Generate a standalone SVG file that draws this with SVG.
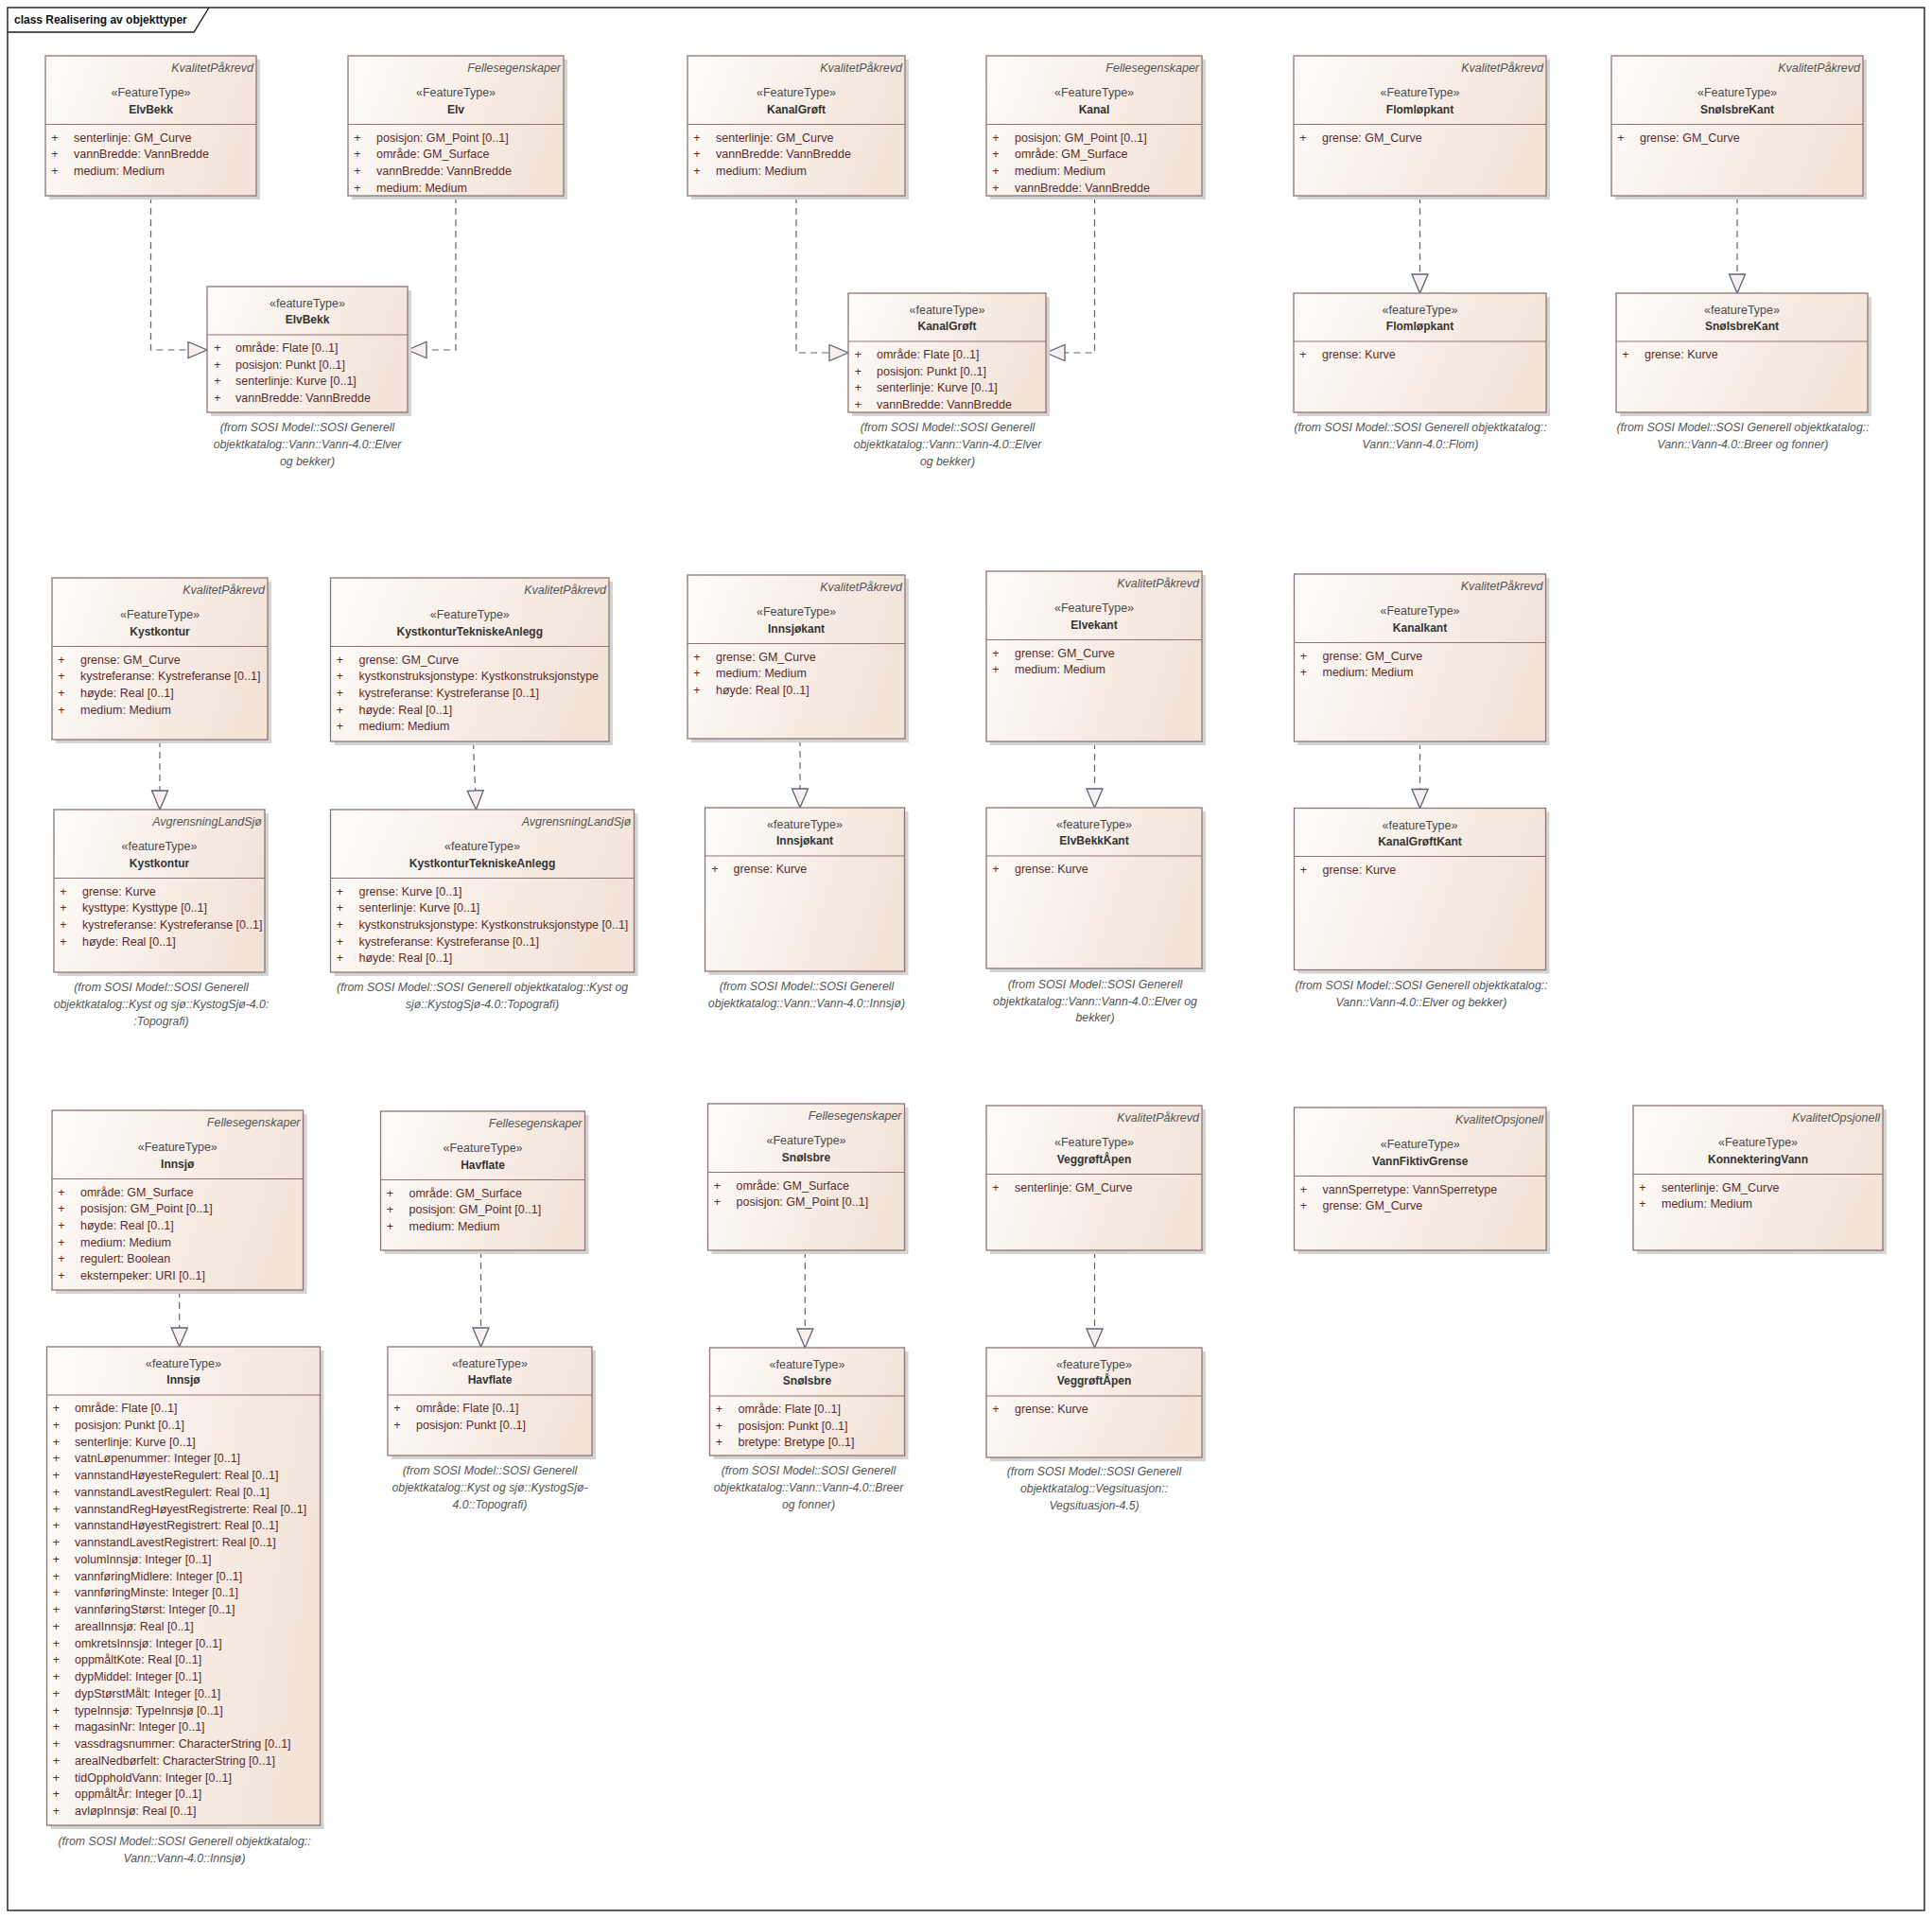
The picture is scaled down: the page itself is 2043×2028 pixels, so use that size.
<svg xmlns="http://www.w3.org/2000/svg" width="2043" height="2028" viewBox="0 0 2043 2028">
<defs>
<linearGradient id="g" x1="0" y1="0" x2="1" y2="0.25">
<stop offset="0" stop-color="#fefcfa"/>
<stop offset="1" stop-color="#f2e4d9"/>
</linearGradient>
<marker id="gen" markerUnits="userSpaceOnUse" markerWidth="24" markerHeight="20" viewBox="0 0 24 20" refX="21.5" refY="9.5" orient="auto">
<path d="M1.5,1 L21.5,9.5 L1.5,18 Z" fill="#f7f0ee" stroke="#5d6577" stroke-width="1.3"/>
</marker>
<style>
text{font-family:"Liberation Sans",Arial,sans-serif}
.sh{fill:#d4d4d4}
.bx{fill:url(#g);stroke:#8e7575;stroke-width:1.3}
.sp{stroke:#8e7575;stroke-width:1.2}
.lb{font-size:12.5px;font-style:italic;fill:#555;text-anchor:end}
.st{font-size:12.5px;fill:#4a4a4a;text-anchor:middle}
.nm{font-size:12px;font-weight:bold;fill:#333;text-anchor:middle}
.at{font-size:12.5px;fill:#5c2b2b}
.pl{font-size:12.5px;fill:#5c2b2b;text-anchor:middle}
.nt{font-size:12.3px;font-style:italic;fill:#555;text-anchor:middle}
.cn{fill:none;stroke:#5d6577;stroke-width:1.2;stroke-dasharray:7 5;marker-end:url(#gen)}
.fr{fill:none;stroke:#1e1e1e;stroke-width:1.4}
</style>
</defs>
<rect width="2043" height="2028" fill="#fff"/>
<g id="frame">
<rect class="fr" x="8" y="8" width="2027" height="2012"/>
<path class="fr" d="M8,34 H205 L221,8"/>
<text x="15" y="25" font-size="12" font-weight="bold" fill="#111">class Realisering av objekttyper</text>
</g>

<g id="connectors">
<path class="cn" d="M159.5,208 V370 H219"/>
<path class="cn" d="M482,208 V370 H431"/>
<path class="cn" d="M842,208 V373 H897"/>
<path class="cn" d="M1157.5,208 V373 H1106"/>
<path class="cn" d="M1501.5,208 V310"/>
<path class="cn" d="M1837,208 V310"/>
<path class="cn" d="M169,783 V856"/>
<path class="cn" d="M500.5,785 L503.5,856"/>
<path class="cn" d="M846,782 V854"/>
<path class="cn" d="M1157.5,785 V854"/>
<path class="cn" d="M1501.5,785 V854.5"/>
<path class="cn" d="M189.7,1365 V1424"/>
<path class="cn" d="M508.5,1323 V1424"/>
<path class="cn" d="M851.3,1323 V1425"/>
<path class="cn" d="M1157.5,1323 V1425"/>
</g>

<g id="ElvBekk-src">
<rect class="sh" x="52" y="63" width="223" height="148"/>
<rect class="bx" x="48" y="59" width="223" height="148"/>
<line class="sp" x1="48" y1="131.5" x2="271" y2="131.5"/>
<text class="lb" x="268" y="76">KvalitetPåkrevd</text>
<text class="st" x="159.5" y="101.5">«FeatureType»</text>
<text class="nm" x="159.5" y="120">ElvBekk</text>
<text class="pl"><tspan x="58" y="149.5">+</tspan><tspan x="58" y="167.2">+</tspan><tspan x="58" y="184.9">+</tspan></text>
<text class="at"><tspan x="78" y="149.5">senterlinje: GM_Curve</tspan><tspan x="78" y="167.2">vannBredde: VannBredde</tspan><tspan x="78" y="184.9">medium: Medium</tspan></text>
</g>

<g id="Elv">
<rect class="sh" x="372" y="63" width="228" height="148"/>
<rect class="bx" x="368" y="59" width="228" height="148"/>
<line class="sp" x1="368" y1="131.5" x2="596" y2="131.5"/>
<text class="lb" x="593" y="76">Fellesegenskaper</text>
<text class="st" x="482" y="101.5">«FeatureType»</text>
<text class="nm" x="482" y="120">Elv</text>
<text class="pl"><tspan x="378" y="149.5">+</tspan><tspan x="378" y="167.2">+</tspan><tspan x="378" y="184.9">+</tspan><tspan x="378" y="202.6">+</tspan></text>
<text class="at"><tspan x="398" y="149.5">posisjon: GM_Point [0..1]</tspan><tspan x="398" y="167.2">område: GM_Surface</tspan><tspan x="398" y="184.9">vannBredde: VannBredde</tspan><tspan x="398" y="202.6">medium: Medium</tspan></text>
</g>

<g id="ElvBekk-tgt">
<rect class="sh" x="223" y="307" width="212" height="133"/>
<rect class="bx" x="219" y="303" width="212" height="133"/>
<line class="sp" x1="219" y1="354" x2="431" y2="354"/>
<text class="st" x="325" y="325">«featureType»</text>
<text class="nm" x="325" y="342">ElvBekk</text>
<text class="pl"><tspan x="230" y="372">+</tspan><tspan x="230" y="389.7">+</tspan><tspan x="230" y="407.4">+</tspan><tspan x="230" y="425.1">+</tspan></text>
<text class="at"><tspan x="249" y="372">område: Flate [0..1]</tspan><tspan x="249" y="389.7">posisjon: Punkt [0..1]</tspan><tspan x="249" y="407.4">senterlinje: Kurve [0..1]</tspan><tspan x="249" y="425.1">vannBredde: VannBredde</tspan></text>
<text class="nt"><tspan x="325" y="456">(from SOSI Model::SOSI Generell</tspan><tspan x="325" y="474">objektkatalog::Vann::Vann-4.0::Elver</tspan><tspan x="325" y="492">og bekker)</tspan></text>
</g>

<g id="KanalGroft-src">
<rect class="sh" x="731" y="63" width="230" height="148"/>
<rect class="bx" x="727" y="59" width="230" height="148"/>
<line class="sp" x1="727" y1="131.5" x2="957" y2="131.5"/>
<text class="lb" x="954" y="76">KvalitetPåkrevd</text>
<text class="st" x="842" y="101.5">«FeatureType»</text>
<text class="nm" x="842" y="120">KanalGrøft</text>
<text class="pl"><tspan x="737" y="149.5">+</tspan><tspan x="737" y="167.2">+</tspan><tspan x="737" y="184.9">+</tspan></text>
<text class="at"><tspan x="757" y="149.5">senterlinje: GM_Curve</tspan><tspan x="757" y="167.2">vannBredde: VannBredde</tspan><tspan x="757" y="184.9">medium: Medium</tspan></text>
</g>

<g id="Kanal">
<rect class="sh" x="1047" y="63" width="228" height="148"/>
<rect class="bx" x="1043" y="59" width="228" height="148"/>
<line class="sp" x1="1043" y1="131.5" x2="1271" y2="131.5"/>
<text class="lb" x="1268" y="76">Fellesegenskaper</text>
<text class="st" x="1157" y="101.5">«FeatureType»</text>
<text class="nm" x="1157" y="120">Kanal</text>
<text class="pl"><tspan x="1053" y="149.5">+</tspan><tspan x="1053" y="167.2">+</tspan><tspan x="1053" y="184.9">+</tspan><tspan x="1053" y="202.6">+</tspan></text>
<text class="at"><tspan x="1073" y="149.5">posisjon: GM_Point [0..1]</tspan><tspan x="1073" y="167.2">område: GM_Surface</tspan><tspan x="1073" y="184.9">medium: Medium</tspan><tspan x="1073" y="202.6">vannBredde: VannBredde</tspan></text>
</g>

<g id="KanalGroft-tgt">
<rect class="sh" x="901" y="314" width="209" height="126"/>
<rect class="bx" x="897" y="310" width="209" height="126"/>
<line class="sp" x1="897" y1="361" x2="1106" y2="361"/>
<text class="st" x="1001.5" y="332">«featureType»</text>
<text class="nm" x="1001.5" y="349">KanalGrøft</text>
<text class="pl"><tspan x="907.5" y="379">+</tspan><tspan x="907.5" y="396.7">+</tspan><tspan x="907.5" y="414.4">+</tspan><tspan x="907.5" y="432.1">+</tspan></text>
<text class="at"><tspan x="927" y="379">område: Flate [0..1]</tspan><tspan x="927" y="396.7">posisjon: Punkt [0..1]</tspan><tspan x="927" y="414.4">senterlinje: Kurve [0..1]</tspan><tspan x="927" y="432.1">vannBredde: VannBredde</tspan></text>
<text class="nt"><tspan x="1002" y="456">(from SOSI Model::SOSI Generell</tspan><tspan x="1002" y="474">objektkatalog::Vann::Vann-4.0::Elver</tspan><tspan x="1002" y="492">og bekker)</tspan></text>
</g>

<g id="Flomlopkant-src">
<rect class="sh" x="1372" y="63" width="267" height="148"/>
<rect class="bx" x="1368" y="59" width="267" height="148"/>
<line class="sp" x1="1368" y1="131.5" x2="1635" y2="131.5"/>
<text class="lb" x="1632" y="76">KvalitetPåkrevd</text>
<text class="st" x="1501.5" y="101.5">«FeatureType»</text>
<text class="nm" x="1501.5" y="120">Flomløpkant</text>
<text class="pl"><tspan x="1378" y="149.5">+</tspan></text>
<text class="at"><tspan x="1398" y="149.5">grense: GM_Curve</tspan></text>
</g>

<g id="Flomlopkant-tgt">
<rect class="sh" x="1372" y="314" width="267" height="126"/>
<rect class="bx" x="1368" y="310" width="267" height="126"/>
<line class="sp" x1="1368" y1="361" x2="1635" y2="361"/>
<text class="st" x="1501.5" y="332">«featureType»</text>
<text class="nm" x="1501.5" y="349">Flomløpkant</text>
<text class="pl"><tspan x="1378" y="379">+</tspan></text>
<text class="at"><tspan x="1398" y="379">grense: Kurve</tspan></text>
<text class="nt"><tspan x="1502" y="456">(from SOSI Model::SOSI Generell objektkatalog::</tspan><tspan x="1502" y="474">Vann::Vann-4.0::Flom)</tspan></text>
</g>

<g id="SnoIsbreKant-src">
<rect class="sh" x="1708" y="63" width="266" height="148"/>
<rect class="bx" x="1704" y="59" width="266" height="148"/>
<line class="sp" x1="1704" y1="131.5" x2="1970" y2="131.5"/>
<text class="lb" x="1967" y="76">KvalitetPåkrevd</text>
<text class="st" x="1837" y="101.5">«FeatureType»</text>
<text class="nm" x="1837" y="120">SnøIsbreKant</text>
<text class="pl"><tspan x="1714" y="149.5">+</tspan></text>
<text class="at"><tspan x="1734" y="149.5">grense: GM_Curve</tspan></text>
</g>

<g id="SnoIsbreKant-tgt">
<rect class="sh" x="1713" y="314" width="266" height="126"/>
<rect class="bx" x="1709" y="310" width="266" height="126"/>
<line class="sp" x1="1709" y1="361" x2="1975" y2="361"/>
<text class="st" x="1842" y="332">«featureType»</text>
<text class="nm" x="1842" y="349">SnøIsbreKant</text>
<text class="pl"><tspan x="1719" y="379">+</tspan></text>
<text class="at"><tspan x="1739" y="379">grense: Kurve</tspan></text>
<text class="nt"><tspan x="1843" y="456">(from SOSI Model::SOSI Generell objektkatalog::</tspan><tspan x="1843" y="474">Vann::Vann-4.0::Breer og fonner)</tspan></text>
</g>

<g id="Kystkontur-src">
<rect class="sh" x="59" y="615" width="228" height="171"/>
<rect class="bx" x="55" y="611" width="228" height="171"/>
<line class="sp" x1="55" y1="683.5" x2="283" y2="683.5"/>
<text class="lb" x="280" y="628">KvalitetPåkrevd</text>
<text class="st" x="169" y="653.5">«FeatureType»</text>
<text class="nm" x="169" y="672">Kystkontur</text>
<text class="pl"><tspan x="65" y="701.5">+</tspan><tspan x="65" y="719.2">+</tspan><tspan x="65" y="736.9">+</tspan><tspan x="65" y="754.6">+</tspan></text>
<text class="at"><tspan x="85" y="701.5">grense: GM_Curve</tspan><tspan x="85" y="719.2">kystreferanse: Kystreferanse [0..1]</tspan><tspan x="85" y="736.9">høyde: Real [0..1]</tspan><tspan x="85" y="754.6">medium: Medium</tspan></text>
</g>

<g id="KystkonturTekniskeAnlegg-src">
<rect class="sh" x="353.5" y="615" width="294.5" height="173"/>
<rect class="bx" x="349.5" y="611" width="294.5" height="173"/>
<line class="sp" x1="349.5" y1="683.5" x2="644" y2="683.5"/>
<text class="lb" x="641" y="628">KvalitetPåkrevd</text>
<text class="st" x="496.75" y="653.5">«FeatureType»</text>
<text class="nm" x="496.75" y="672">KystkonturTekniskeAnlegg</text>
<text class="pl"><tspan x="359.5" y="701.5">+</tspan><tspan x="359.5" y="719.2">+</tspan><tspan x="359.5" y="736.9">+</tspan><tspan x="359.5" y="754.6">+</tspan><tspan x="359.5" y="772.3">+</tspan></text>
<text class="at"><tspan x="379.5" y="701.5">grense: GM_Curve</tspan><tspan x="379.5" y="719.2">kystkonstruksjonstype: Kystkonstruksjonstype</tspan><tspan x="379.5" y="736.9">kystreferanse: Kystreferanse [0..1]</tspan><tspan x="379.5" y="754.6">høyde: Real [0..1]</tspan><tspan x="379.5" y="772.3">medium: Medium</tspan></text>
</g>

<g id="Kystkontur-tgt">
<rect class="sh" x="61" y="860" width="223" height="172"/>
<rect class="bx" x="57" y="856" width="223" height="172"/>
<line class="sp" x1="57" y1="928.5" x2="280" y2="928.5"/>
<text class="lb" x="277" y="873">AvgrensningLandSjø</text>
<text class="st" x="168.5" y="898.5">«featureType»</text>
<text class="nm" x="168.5" y="917">Kystkontur</text>
<text class="pl"><tspan x="67" y="946.5">+</tspan><tspan x="67" y="964.2">+</tspan><tspan x="67" y="981.9">+</tspan><tspan x="67" y="999.6">+</tspan></text>
<text class="at"><tspan x="87" y="946.5">grense: Kurve</tspan><tspan x="87" y="964.2">kysttype: Kysttype [0..1]</tspan><tspan x="87" y="981.9">kystreferanse: Kystreferanse [0..1]</tspan><tspan x="87" y="999.6">høyde: Real [0..1]</tspan></text>
<text class="nt"><tspan x="170.5" y="1048">(from SOSI Model::SOSI Generell</tspan><tspan x="170.5" y="1066">objektkatalog::Kyst og sjø::KystogSjø-4.0:</tspan><tspan x="170.5" y="1084">:Topografi)</tspan></text>
</g>

<g id="KystkonturTekniskeAnlegg-tgt">
<rect class="sh" x="353.5" y="860" width="321" height="172"/>
<rect class="bx" x="349.5" y="856" width="321" height="172"/>
<line class="sp" x1="349.5" y1="928.5" x2="670.5" y2="928.5"/>
<text class="lb" x="667.5" y="873">AvgrensningLandSjø</text>
<text class="st" x="510" y="898.5">«featureType»</text>
<text class="nm" x="510" y="917">KystkonturTekniskeAnlegg</text>
<text class="pl"><tspan x="359.5" y="946.5">+</tspan><tspan x="359.5" y="964.2">+</tspan><tspan x="359.5" y="981.9">+</tspan><tspan x="359.5" y="999.6">+</tspan><tspan x="359.5" y="1017.3">+</tspan></text>
<text class="at"><tspan x="379.5" y="946.5">grense: Kurve [0..1]</tspan><tspan x="379.5" y="964.2">senterlinje: Kurve [0..1]</tspan><tspan x="379.5" y="981.9">kystkonstruksjonstype: Kystkonstruksjonstype [0..1]</tspan><tspan x="379.5" y="999.6">kystreferanse: Kystreferanse [0..1]</tspan><tspan x="379.5" y="1017.3">høyde: Real [0..1]</tspan></text>
<text class="nt"><tspan x="510" y="1048">(from SOSI Model::SOSI Generell objektkatalog::Kyst og</tspan><tspan x="510" y="1066">sjø::KystogSjø-4.0::Topografi)</tspan></text>
</g>

<g id="Innsjokant-src">
<rect class="sh" x="731" y="612" width="230" height="173"/>
<rect class="bx" x="727" y="608" width="230" height="173"/>
<line class="sp" x1="727" y1="680.5" x2="957" y2="680.5"/>
<text class="lb" x="954" y="625">KvalitetPåkrevd</text>
<text class="st" x="842" y="650.5">«FeatureType»</text>
<text class="nm" x="842" y="669">Innsjøkant</text>
<text class="pl"><tspan x="737" y="698.5">+</tspan><tspan x="737" y="716.2">+</tspan><tspan x="737" y="733.9">+</tspan></text>
<text class="at"><tspan x="757" y="698.5">grense: GM_Curve</tspan><tspan x="757" y="716.2">medium: Medium</tspan><tspan x="757" y="733.9">høyde: Real [0..1]</tspan></text>
</g>

<g id="Innsjokant-tgt">
<rect class="sh" x="749.5" y="858" width="211" height="173"/>
<rect class="bx" x="745.5" y="854" width="211" height="173"/>
<line class="sp" x1="745.5" y1="905" x2="956.5" y2="905"/>
<text class="st" x="851" y="876">«featureType»</text>
<text class="nm" x="851" y="893">Innsjøkant</text>
<text class="pl"><tspan x="756" y="923">+</tspan></text>
<text class="at"><tspan x="775.5" y="923">grense: Kurve</tspan></text>
<text class="nt"><tspan x="853" y="1047">(from SOSI Model::SOSI Generell</tspan><tspan x="853" y="1065">objektkatalog::Vann::Vann-4.0::Innsjø)</tspan></text>
</g>

<g id="Elvekant-src">
<rect class="sh" x="1047" y="608" width="228" height="180"/>
<rect class="bx" x="1043" y="604" width="228" height="180"/>
<line class="sp" x1="1043" y1="676.5" x2="1271" y2="676.5"/>
<text class="lb" x="1268" y="621">KvalitetPåkrevd</text>
<text class="st" x="1157" y="646.5">«FeatureType»</text>
<text class="nm" x="1157" y="665">Elvekant</text>
<text class="pl"><tspan x="1053" y="694.5">+</tspan><tspan x="1053" y="712.2">+</tspan></text>
<text class="at"><tspan x="1073" y="694.5">grense: GM_Curve</tspan><tspan x="1073" y="712.2">medium: Medium</tspan></text>
</g>

<g id="ElvBekkKant-tgt">
<rect class="sh" x="1047" y="858" width="228" height="170"/>
<rect class="bx" x="1043" y="854" width="228" height="170"/>
<line class="sp" x1="1043" y1="905" x2="1271" y2="905"/>
<text class="st" x="1157" y="876">«featureType»</text>
<text class="nm" x="1157" y="893">ElvBekkKant</text>
<text class="pl"><tspan x="1053" y="923">+</tspan></text>
<text class="at"><tspan x="1073" y="923">grense: Kurve</tspan></text>
<text class="nt"><tspan x="1158" y="1045">(from SOSI Model::SOSI Generell</tspan><tspan x="1158" y="1063">objektkatalog::Vann::Vann-4.0::Elver og</tspan><tspan x="1158" y="1080">bekker)</tspan></text>
</g>

<g id="Kanalkant-src">
<rect class="sh" x="1372.5" y="611" width="266" height="177"/>
<rect class="bx" x="1368.5" y="607" width="266" height="177"/>
<line class="sp" x1="1368.5" y1="679.5" x2="1634.5" y2="679.5"/>
<text class="lb" x="1631.5" y="624">KvalitetPåkrevd</text>
<text class="st" x="1501.5" y="649.5">«FeatureType»</text>
<text class="nm" x="1501.5" y="668">Kanalkant</text>
<text class="pl"><tspan x="1378.5" y="697.5">+</tspan><tspan x="1378.5" y="715.2">+</tspan></text>
<text class="at"><tspan x="1398.5" y="697.5">grense: GM_Curve</tspan><tspan x="1398.5" y="715.2">medium: Medium</tspan></text>
</g>

<g id="KanalGroftKant-tgt">
<rect class="sh" x="1372.5" y="858.5" width="266" height="171"/>
<rect class="bx" x="1368.5" y="854.5" width="266" height="171"/>
<line class="sp" x1="1368.5" y1="905.5" x2="1634.5" y2="905.5"/>
<text class="st" x="1501.5" y="876.5">«featureType»</text>
<text class="nm" x="1501.5" y="893.5">KanalGrøftKant</text>
<text class="pl"><tspan x="1378.5" y="923.5">+</tspan></text>
<text class="at"><tspan x="1398.5" y="923.5">grense: Kurve</tspan></text>
<text class="nt"><tspan x="1503" y="1046">(from SOSI Model::SOSI Generell objektkatalog::</tspan><tspan x="1503" y="1064">Vann::Vann-4.0::Elver og bekker)</tspan></text>
</g>

<g id="Innsjo-src">
<rect class="sh" x="59" y="1178" width="265.5" height="190"/>
<rect class="bx" x="55" y="1174" width="265.5" height="190"/>
<line class="sp" x1="55" y1="1246.5" x2="320.5" y2="1246.5"/>
<text class="lb" x="317.5" y="1191">Fellesegenskaper</text>
<text class="st" x="187.75" y="1216.5">«FeatureType»</text>
<text class="nm" x="187.75" y="1235">Innsjø</text>
<text class="pl"><tspan x="65" y="1264.5">+</tspan><tspan x="65" y="1282.2">+</tspan><tspan x="65" y="1299.9">+</tspan><tspan x="65" y="1317.6">+</tspan><tspan x="65" y="1335.3">+</tspan><tspan x="65" y="1353">+</tspan></text>
<text class="at"><tspan x="85" y="1264.5">område: GM_Surface</tspan><tspan x="85" y="1282.2">posisjon: GM_Point [0..1]</tspan><tspan x="85" y="1299.9">høyde: Real [0..1]</tspan><tspan x="85" y="1317.6">medium: Medium</tspan><tspan x="85" y="1335.3">regulert: Boolean</tspan><tspan x="85" y="1353">eksternpeker: URI [0..1]</tspan></text>
</g>

<g id="Innsjo-tgt">
<rect class="sh" x="53.5" y="1428" width="289" height="506"/>
<rect class="bx" x="49.5" y="1424" width="289" height="506"/>
<line class="sp" x1="49.5" y1="1475" x2="338.5" y2="1475"/>
<text class="st" x="194" y="1446">«featureType»</text>
<text class="nm" x="194" y="1463">Innsjø</text>
<text class="pl"><tspan x="59.5" y="1493">+</tspan><tspan x="59.5" y="1510.75">+</tspan><tspan x="59.5" y="1528.5">+</tspan><tspan x="59.5" y="1546.25">+</tspan><tspan x="59.5" y="1564">+</tspan><tspan x="59.5" y="1581.75">+</tspan><tspan x="59.5" y="1599.5">+</tspan><tspan x="59.5" y="1617.25">+</tspan><tspan x="59.5" y="1635">+</tspan><tspan x="59.5" y="1652.75">+</tspan><tspan x="59.5" y="1670.5">+</tspan><tspan x="59.5" y="1688.25">+</tspan><tspan x="59.5" y="1706">+</tspan><tspan x="59.5" y="1723.75">+</tspan><tspan x="59.5" y="1741.5">+</tspan><tspan x="59.5" y="1759.25">+</tspan><tspan x="59.5" y="1777">+</tspan><tspan x="59.5" y="1794.75">+</tspan><tspan x="59.5" y="1812.5">+</tspan><tspan x="59.5" y="1830.25">+</tspan><tspan x="59.5" y="1848">+</tspan><tspan x="59.5" y="1865.75">+</tspan><tspan x="59.5" y="1883.5">+</tspan><tspan x="59.5" y="1901.25">+</tspan><tspan x="59.5" y="1919">+</tspan></text>
<text class="at"><tspan x="79" y="1493">område: Flate [0..1]</tspan><tspan x="79" y="1510.75">posisjon: Punkt [0..1]</tspan><tspan x="79" y="1528.5">senterlinje: Kurve [0..1]</tspan><tspan x="79" y="1546.25">vatnLøpenummer: Integer [0..1]</tspan><tspan x="79" y="1564">vannstandHøyesteRegulert: Real [0..1]</tspan><tspan x="79" y="1581.75">vannstandLavestRegulert: Real [0..1]</tspan><tspan x="79" y="1599.5">vannstandRegHøyestRegistrerte: Real [0..1]</tspan><tspan x="79" y="1617.25">vannstandHøyestRegistrert: Real [0..1]</tspan><tspan x="79" y="1635">vannstandLavestRegistrert: Real [0..1]</tspan><tspan x="79" y="1652.75">volumInnsjø: Integer [0..1]</tspan><tspan x="79" y="1670.5">vannføringMidlere: Integer [0..1]</tspan><tspan x="79" y="1688.25">vannføringMinste: Integer [0..1]</tspan><tspan x="79" y="1706">vannføringStørst: Integer [0..1]</tspan><tspan x="79" y="1723.75">arealInnsjø: Real [0..1]</tspan><tspan x="79" y="1741.5">omkretsInnsjø: Integer [0..1]</tspan><tspan x="79" y="1759.25">oppmåltKote: Real [0..1]</tspan><tspan x="79" y="1777">dypMiddel: Integer [0..1]</tspan><tspan x="79" y="1794.75">dypStørstMålt: Integer [0..1]</tspan><tspan x="79" y="1812.5">typeInnsjø: TypeInnsjø [0..1]</tspan><tspan x="79" y="1830.25">magasinNr: Integer [0..1]</tspan><tspan x="79" y="1848">vassdragsnummer: CharacterString [0..1]</tspan><tspan x="79" y="1865.75">arealNedbørfelt: CharacterString [0..1]</tspan><tspan x="79" y="1883.5">tidOppholdVann: Integer [0..1]</tspan><tspan x="79" y="1901.25">oppmåltÅr: Integer [0..1]</tspan><tspan x="79" y="1919">avløpInnsjø: Real [0..1]</tspan></text>
<text class="nt"><tspan x="195" y="1951">(from SOSI Model::SOSI Generell objektkatalog::</tspan><tspan x="195" y="1969">Vann::Vann-4.0::Innsjø)</tspan></text>
</g>

<g id="Havflate-src">
<rect class="sh" x="406.5" y="1179" width="216" height="147"/>
<rect class="bx" x="402.5" y="1175" width="216" height="147"/>
<line class="sp" x1="402.5" y1="1247.5" x2="618.5" y2="1247.5"/>
<text class="lb" x="615.5" y="1192">Fellesegenskaper</text>
<text class="st" x="510.5" y="1217.5">«FeatureType»</text>
<text class="nm" x="510.5" y="1236">Havflate</text>
<text class="pl"><tspan x="412.5" y="1265.5">+</tspan><tspan x="412.5" y="1283.2">+</tspan><tspan x="412.5" y="1300.9">+</tspan></text>
<text class="at"><tspan x="432.5" y="1265.5">område: GM_Surface</tspan><tspan x="432.5" y="1283.2">posisjon: GM_Point [0..1]</tspan><tspan x="432.5" y="1300.9">medium: Medium</tspan></text>
</g>

<g id="Havflate-tgt">
<rect class="sh" x="414" y="1428" width="216" height="115"/>
<rect class="bx" x="410" y="1424" width="216" height="115"/>
<line class="sp" x1="410" y1="1475" x2="626" y2="1475"/>
<text class="st" x="518" y="1446">«featureType»</text>
<text class="nm" x="518" y="1463">Havflate</text>
<text class="pl"><tspan x="420" y="1493">+</tspan><tspan x="420" y="1510.7">+</tspan></text>
<text class="at"><tspan x="440" y="1493">område: Flate [0..1]</tspan><tspan x="440" y="1510.7">posisjon: Punkt [0..1]</tspan></text>
<text class="nt"><tspan x="518" y="1559">(from SOSI Model::SOSI Generell</tspan><tspan x="518" y="1577">objektkatalog::Kyst og sjø::KystogSjø-</tspan><tspan x="518" y="1595">4.0::Topografi)</tspan></text>
</g>

<g id="SnoIsbre-src">
<rect class="sh" x="752.5" y="1171" width="208" height="155"/>
<rect class="bx" x="748.5" y="1167" width="208" height="155"/>
<line class="sp" x1="748.5" y1="1239.5" x2="956.5" y2="1239.5"/>
<text class="lb" x="953.5" y="1184">Fellesegenskaper</text>
<text class="st" x="852.5" y="1209.5">«FeatureType»</text>
<text class="nm" x="852.5" y="1228">SnøIsbre</text>
<text class="pl"><tspan x="758.5" y="1257.5">+</tspan><tspan x="758.5" y="1275.2">+</tspan></text>
<text class="at"><tspan x="778.5" y="1257.5">område: GM_Surface</tspan><tspan x="778.5" y="1275.2">posisjon: GM_Point [0..1]</tspan></text>
</g>

<g id="SnoIsbre-tgt">
<rect class="sh" x="754.5" y="1429" width="206" height="114"/>
<rect class="bx" x="750.5" y="1425" width="206" height="114"/>
<line class="sp" x1="750.5" y1="1476" x2="956.5" y2="1476"/>
<text class="st" x="853.5" y="1447">«featureType»</text>
<text class="nm" x="853.5" y="1464">SnøIsbre</text>
<text class="pl"><tspan x="760.5" y="1494">+</tspan><tspan x="760.5" y="1511.7">+</tspan><tspan x="760.5" y="1529.4">+</tspan></text>
<text class="at"><tspan x="780.5" y="1494">område: Flate [0..1]</tspan><tspan x="780.5" y="1511.7">posisjon: Punkt [0..1]</tspan><tspan x="780.5" y="1529.4">bretype: Bretype [0..1]</tspan></text>
<text class="nt"><tspan x="855" y="1559">(from SOSI Model::SOSI Generell</tspan><tspan x="855" y="1577">objektkatalog::Vann::Vann-4.0::Breer</tspan><tspan x="855" y="1595">og fonner)</tspan></text>
</g>

<g id="VeggroftApen-src">
<rect class="sh" x="1047" y="1173" width="228" height="153"/>
<rect class="bx" x="1043" y="1169" width="228" height="153"/>
<line class="sp" x1="1043" y1="1241.5" x2="1271" y2="1241.5"/>
<text class="lb" x="1268" y="1186">KvalitetPåkrevd</text>
<text class="st" x="1157" y="1211.5">«FeatureType»</text>
<text class="nm" x="1157" y="1230">VeggrøftÅpen</text>
<text class="pl"><tspan x="1053" y="1259.5">+</tspan></text>
<text class="at"><tspan x="1073" y="1259.5">senterlinje: GM_Curve</tspan></text>
</g>

<g id="VeggroftApen-tgt">
<rect class="sh" x="1047" y="1429" width="228" height="116"/>
<rect class="bx" x="1043" y="1425" width="228" height="116"/>
<line class="sp" x1="1043" y1="1476" x2="1271" y2="1476"/>
<text class="st" x="1157" y="1447">«featureType»</text>
<text class="nm" x="1157" y="1464">VeggrøftÅpen</text>
<text class="pl"><tspan x="1053" y="1494">+</tspan></text>
<text class="at"><tspan x="1073" y="1494">grense: Kurve</tspan></text>
<text class="nt"><tspan x="1157" y="1560">(from SOSI Model::SOSI Generell</tspan><tspan x="1157" y="1578">objektkatalog::Vegsituasjon::</tspan><tspan x="1157" y="1596">Vegsituasjon-4.5)</tspan></text>
</g>

<g id="VannFiktivGrense">
<rect class="sh" x="1372.5" y="1175" width="266.5" height="151"/>
<rect class="bx" x="1368.5" y="1171" width="266.5" height="151"/>
<line class="sp" x1="1368.5" y1="1243.5" x2="1635" y2="1243.5"/>
<text class="lb" x="1632" y="1188">KvalitetOpsjonell</text>
<text class="st" x="1501.75" y="1213.5">«FeatureType»</text>
<text class="nm" x="1501.75" y="1232">VannFiktivGrense</text>
<text class="pl"><tspan x="1378.5" y="1261.5">+</tspan><tspan x="1378.5" y="1279.2">+</tspan></text>
<text class="at"><tspan x="1398.5" y="1261.5">vannSperretype: VannSperretype</tspan><tspan x="1398.5" y="1279.2">grense: GM_Curve</tspan></text>
</g>

<g id="KonnekteringVann">
<rect class="sh" x="1731" y="1173" width="264" height="153"/>
<rect class="bx" x="1727" y="1169" width="264" height="153"/>
<line class="sp" x1="1727" y1="1241.5" x2="1991" y2="1241.5"/>
<text class="lb" x="1988" y="1186">KvalitetOpsjonell</text>
<text class="st" x="1859" y="1211.5">«FeatureType»</text>
<text class="nm" x="1859" y="1230">KonnekteringVann</text>
<text class="pl"><tspan x="1737" y="1259.5">+</tspan><tspan x="1737" y="1277.2">+</tspan></text>
<text class="at"><tspan x="1757" y="1259.5">senterlinje: GM_Curve</tspan><tspan x="1757" y="1277.2">medium: Medium</tspan></text>
</g>
</svg>
